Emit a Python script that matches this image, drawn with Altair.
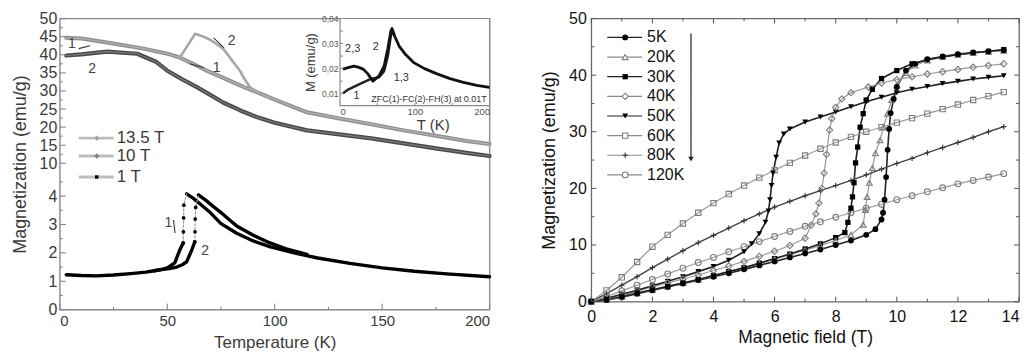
import altair as alt
import pandas as pd

FONT = "Liberation Sans"

# ===================== LEFT PANEL : M(T) =====================
# 13.5 T curve (upper band) and its branch "2" bump
T_135 = [3, 10, 22, 39, 50, 56, 62, 68, 75, 81, 86, 92, 100, 115, 130, 145, 160, 175, 190, 200]
M_135 = [44.7, 44.5, 43.4, 41.7, 40.3, 39.2, 37.5, 35.7, 33.9, 32.3, 31.0, 29.6, 27.6, 24.1, 22.4, 20.8, 19.1, 17.6, 16.1, 15.3]
BUMP_T = [55.8, 59.5, 62.9, 67, 70.7, 76, 83.8, 85.5, 88.5, 93]
BUMP_M = [39.2, 42.6, 45.8, 45.0, 43.9, 41.7, 35.6, 33.7, 31.0, 29.4]
# 10 T curve
T_10 = [3, 10, 22, 36, 45, 50, 57, 64, 70, 76, 84, 92, 100, 115, 130, 145, 160, 175, 190, 200]
M_10 = [39.8, 40.1, 40.9, 40.3, 38.0, 35.6, 33.2, 31.0, 28.9, 26.8, 24.6, 22.7, 21.2, 19.1, 18.0, 16.9, 15.5, 14.1, 12.8, 12.0]
# 1 T, branch 1
B1_LOW_T = [3, 10, 17, 25, 33, 40, 44, 48, 50, 53.5, 55.8, 57.4]
B1_LOW_M = [1.23, 1.20, 1.19, 1.22, 1.27, 1.32, 1.37, 1.43, 1.47, 1.65, 2.10, 2.35]
B1_JUMP_T = [57.4, 57.5, 57.6, 57.7, 59.0]
B1_JUMP_M = [2.35, 2.74, 3.23, 3.68, 4.08]
B1_HIGH_T = [59.0, 62, 66, 70, 75, 82.3, 90, 98, 110, 120, 135, 150, 165, 180, 200]
B1_HIGH_M = [4.08, 3.93, 3.68, 3.42, 3.03, 2.69, 2.42, 2.21, 1.98, 1.82, 1.63, 1.47, 1.35, 1.26, 1.16]
# 1 T, branch 2
B2_LOW_T = [44, 48, 51, 54.4, 57, 59, 61.4, 62.8]
B2_LOW_M = [1.37, 1.42, 1.45, 1.50, 1.58, 1.68, 2.10, 2.39]
B2_JUMP_T = [62.8, 62.9, 63.0, 63.2, 64.5]
B2_JUMP_M = [2.39, 2.74, 3.19, 3.60, 4.04]
B2_HIGH_T = [64.5, 68, 71.5, 75, 79, 82.3, 90, 97.8, 105, 115]
B2_HIGH_M = [4.04, 3.85, 3.63, 3.42, 3.16, 2.95, 2.62, 2.35, 2.15, 1.95]

LEFT_LEGEND = ["13.5 T", "10 T", "1 T"]
LEFT_ANN_TEXT = ["1", "2", "2", "1", "1", "2"]
LEFT_ANN_T = [5.6, 15.0, 80.0, 73.0, 50.5, 67.6]
LEFT_ANN_M = [43.0, 36.0, 43.9, 36.4, 3.04, 2.05]
# short arrow strokes next to the branch numbers
ARROW_ID = ["a", "a", "b", "b", "c", "c", "d", "d"]
ARROW_T = [14, 8.8, 71.6, 76.3, 67, 60.5, 52.9, 53.6]
ARROW_M = [42.5, 41.7, 44.7, 42.0, 36.4, 37.5, 3.16, 2.70]

LEFT_X_MAJOR = [0, 50, 100, 150, 200]
LEFT_X_MINOR = [25, 75, 125, 175]
LEFT_Y_LOW = [0, 1, 2, 3, 4]
LEFT_Y_LOW_MINOR = [0.5, 1.5, 2.5, 3.5, 4.5]
LEFT_Y_HIGH = [10, 15, 20, 25, 30, 35, 40, 45, 50]
LEFT_Y_HIGH_MINOR = [12.5, 17.5, 22.5, 27.5, 32.5, 37.5, 42.5, 47.5]

# inset: ZFC / FC / FH at 0.01 T
IN_UP_T = [4, 12, 19, 25, 31, 37, 44, 52, 59, 64, 68, 69.5, 73, 79, 88, 98, 113, 129, 147, 165, 183, 200]
IN_UP_M = [0.0198, 0.0205, 0.0210, 0.0205, 0.0198, 0.0180, 0.0150, 0.0170, 0.0210, 0.0280, 0.0350, 0.0360,
           0.0330, 0.0290, 0.0255, 0.0225, 0.0200, 0.0180, 0.0160, 0.0145, 0.0133, 0.0125]
IN_LOW_T = [4, 10, 17, 24, 31, 42, 52, 59, 64, 68, 70.5, 73]
IN_LOW_M = [0.0102, 0.0115, 0.0125, 0.0135, 0.0145, 0.0160, 0.0165, 0.0190, 0.0250, 0.0330, 0.0350, 0.0330]
IN_ANN_TEXT = ["2,3", "2", "1,3", "1"]
IN_ANN_T = [17, 48, 82, 22]
IN_ANN_M = [0.0277, 0.0285, 0.0163, 0.0090]
IN_NOTE = "ZFC(1)-FC(2)-FH(3) at 0.01T"
IN_NOTE_T = [119]
IN_NOTE_M = [0.0079]
IN_X_MAJOR = [0, 100, 200]
IN_Y_MAJOR = [0.01, 0.02, 0.03, 0.04]

# ===================== RIGHT PANEL : M(H) =====================
H_5K = [0, .5, 1, 1.5, 2, 2.5, 3, 3.5, 4, 4.5, 5, 5.5, 6, 6.5, 7, 7.5, 8, 8.5, 9, 9.3, 9.5, 9.55, 9.6, 9.65,
        9.7, 9.75, 9.8, 9.9, 10.0, 10.3, 10.6, 11, 11.5, 12, 12.5, 13, 13.5]
M_5K = [0, .3, .8, 1.4, 2.0, 2.6, 3.2, 3.8, 4.4, 5.0, 5.7, 6.4, 7.1, 7.8, 8.5, 9.2, 10.0, 10.8, 11.8, 12.8, 14.5,
        15.7, 18.0, 22.0, 26.8, 30.5, 33.3, 35.8, 37.9, 40.8, 42.0, 42.8, 43.3, 43.7, 44.0, 44.2, 44.4]
H_20K = [0, .5, 1, 1.5, 2, 2.5, 3, 3.5, 4, 4.5, 5, 5.5, 6, 6.5, 7, 7.5, 8, 8.5, 8.9, 8.97, 9.03, 9.1, 9.2, 9.3,
         9.45, 9.56, 9.7, 9.83, 10.0, 10.3, 10.6, 11, 11.5, 12, 12.5, 13, 13.5]
M_20K = [0, .35, .9, 1.5, 2.1, 2.7, 3.3, 3.9, 4.6, 5.3, 6.0, 6.7, 7.5, 8.3, 9.1, 9.9, 10.8, 11.8, 13.6, 16.2,
         18.5, 21.0, 23.6, 26.2, 28.5, 30.8, 33.2, 35.6, 38.2, 40.4, 41.7, 42.6, 43.2, 43.6, 43.9, 44.1, 44.3]
H_30K = [0, .5, 1, 1.5, 2, 2.5, 3, 3.5, 4, 4.5, 5, 5.5, 6, 6.5, 7, 7.5, 8, 8.3, 8.4, 8.5, 8.55, 8.6, 8.65, 8.72,
         8.8, 8.9, 9.0, 9.2, 9.5, 10, 10.5, 11, 11.5, 12, 12.5, 13, 13.5]
M_30K = [0, .4, .9, 1.5, 2.1, 2.7, 3.3, 3.9, 4.6, 5.3, 6.0, 6.8, 7.6, 8.4, 9.3, 10.2, 11.3, 12.2, 14.0, 16.5,
         18.5, 21.0, 24.5, 27.3, 30.8, 33.2, 35.6, 37.5, 39.4, 40.8, 42.0, 42.7, 43.2, 43.6, 43.9, 44.2, 44.5]
H_40K = [0, .5, 1, 1.5, 2, 2.5, 3, 3.5, 4, 4.5, 5, 5.5, 6, 6.5, 7, 7.2, 7.35, 7.45, 7.55, 7.62, 7.7, 7.8, 7.87,
         8.0, 8.2, 8.5, 9.07, 9.5, 10, 10.5, 11, 11.5, 12, 12.5, 13, 13.5]
M_40K = [0, .5, 1.2, 1.9, 2.6, 3.3, 4.0, 4.7, 5.5, 6.3, 7.1, 8.0, 8.9, 9.9, 11.2, 13.5, 15.5, 17.4, 20.0, 22.7,
         26.0, 30.3, 32.3, 34.3, 35.8, 36.9, 37.9, 38.6, 39.2, 39.7, 40.2, 40.6, 41.0, 41.4, 41.7, 42.0]
H_50K = [0, .5, 1, 1.5, 2, 2.5, 3, 3.5, 4, 4.5, 5, 5.25, 5.5, 5.7, 5.8, 5.85, 5.9, 5.95, 6.05, 6.15, 6.3, 6.5,
         7, 7.5, 8, 8.5, 9, 9.5, 10, 10.5, 11, 11.5, 12, 12.5, 13, 13.5]
M_50K = [0, .6, 1.3, 2.0, 2.8, 3.6, 4.4, 5.3, 6.2, 7.3, 8.8, 10.2, 12.0, 14.0, 16.0, 18.0, 20.5, 22.7, 25.5, 28.0,
         29.6, 30.5, 31.7, 32.6, 33.5, 34.4, 35.3, 36.1, 36.9, 37.5, 38.0, 38.5, 38.9, 39.3, 39.6, 39.9]
H_GRID = [0, .5, 1, 1.5, 2, 2.5, 3, 3.5, 4, 4.5, 5, 5.5, 6, 6.5, 7, 7.5, 8, 8.5, 9, 9.5, 10, 10.5, 11, 11.5,
          12, 12.5, 13, 13.5]
M_60K = [0, 2.0, 4.3, 7.0, 9.7, 11.8, 13.8, 15.7, 17.4, 19.0, 20.5, 21.9, 23.2, 24.5, 25.8, 27.0, 28.1, 29.1,
         30.0, 30.8, 31.6, 32.4, 33.2, 34.0, 34.8, 35.6, 36.3, 37.0]
M_80K = [0, 1.4, 2.9, 4.4, 6.0, 7.5, 9.0, 10.4, 11.7, 13.0, 14.3, 15.5, 16.7, 17.7, 18.7, 19.6, 20.5, 21.4,
         22.4, 23.4, 24.4, 25.3, 26.3, 27.2, 28.1, 29.0, 30.0, 30.9]
M_120K = [0, .9, 1.9, 2.9, 3.9, 4.9, 5.9, 6.9, 7.8, 8.8, 9.7, 10.6, 11.5, 12.4, 13.3, 14.1, 14.9, 15.7, 16.5,
          17.2, 18.0, 18.7, 19.4, 20.1, 20.8, 21.4, 22.0, 22.6]

RIGHT_SERIES = ["5K", "20K", "30K", "40K", "50K", "60K", "80K", "120K"]
RIGHT_H = [H_5K, H_20K, H_30K, H_40K, H_50K, H_GRID, H_GRID, H_GRID]
RIGHT_M = [M_5K, M_20K, M_30K, M_40K, M_50K, M_60K, M_80K, M_120K]
RIGHT_X_MAJOR = [0, 2, 4, 6, 8, 10, 12, 14]
RIGHT_X_MINOR = [1, 3, 5, 7, 9, 11, 13]
RIGHT_Y_MAJOR = [0, 10, 20, 30, 40, 50]
RIGHT_Y_MINOR = [5, 15, 25, 35, 45]

# ---------------- styles ----------------
PLUS = "M-1,0H1M0,-1V1"
RSTYLE = {
    "5K":   dict(shape="circle", filled=True, color="#000000", line="#222222", lw=1.6, size=34),
    "20K":  dict(shape="triangle-up", filled=False, color="#7d7d7d", line="#9a9a9a", lw=1.2, size=34),
    "30K":  dict(shape="square", filled=True, color="#000000", line="#222222", lw=1.6, size=28),
    "40K":  dict(shape="diamond", filled=False, color="#7d7d7d", line="#9a9a9a", lw=1.2, size=40),
    "50K":  dict(shape="triangle-down", filled=True, color="#000000", line="#222222", lw=1.6, size=34),
    "60K":  dict(shape="square", filled=False, color="#7d7d7d", line="#9a9a9a", lw=1.2, size=28),
    "80K":  dict(shape=PLUS, filled=False, color="#333333", line="#444444", lw=1.4, size=30),
    "120K": dict(shape="circle", filled=False, color="#7d7d7d", line="#9a9a9a", lw=1.2, size=34),
}

LTXT = "#3a3a3a"
RTXT = "#111111"
one = pd.DataFrame({"k": [0]})

# ---------------- left main panel ----------------
LW, LH = 431, 292
B = 5.158   # display position of 10 emu/g on the broken axis
K = 0.1274  # display units per emu/g above the break
BREAK_EXPR = f"datum.M >= 8 ? {B} + (datum.M - 10) * {K} : datum.M"
Y_DISPLAY = LEFT_Y_LOW + [B + (m - 10) * K for m in LEFT_Y_HIGH]

lx = alt.X("T:Q", scale=alt.Scale(domain=[0, 200], nice=False),
           axis=alt.Axis(values=LEFT_X_MAJOR, ticks=False, domain=False, grid=False, labelFont=FONT,
                         labelFontSize=15, labelColor=LTXT, labelPadding=4, title="Temperature (K)",
                         titleFont=FONT, titleFontSize=17, titleFontWeight="normal", titleColor=LTXT,
                         titlePadding=6, labelOverlap=False))
ly = alt.Y("Y:Q", scale=alt.Scale(domain=[0, 10.26], nice=False),
           axis=alt.Axis(values=Y_DISPLAY, ticks=False, domain=False, grid=False, labelFont=FONT,
                         labelFontSize=16, labelColor=LTXT, labelPadding=3, labelOverlap=False,
                         labelExpr=f"datum.value < 5 ? format(datum.value, 'd') : format((datum.value - {B}) / {K} + 10, '.0f')",
                         title="Magnetization (emu/g)", titleFont=FONT, titleFontSize=18,
                         titleFontWeight="normal", titleColor=LTXT, titlePadding=10))


def tdf(t, m):
    return pd.DataFrame({"T": t, "M": m, "i": list(range(len(t)))})


def lcurve(t, m, color, width, dash=None):
    kw = dict(color=color, strokeWidth=width, strokeCap="round", strokeJoin="round")
    if dash:
        kw["strokeDash"] = dash
    return (alt.Chart(tdf(t, m)).transform_calculate(Y=BREAK_EXPR)
            .mark_line(**kw).encode(x=lx, y=ly, order=alt.Order("i:Q")))


def lpoints(t, m, color, size, shape="circle"):
    return (alt.Chart(tdf(t, m)).transform_calculate(Y=BREAK_EXPR)
            .mark_point(shape=shape, filled=True, color=color, size=size, opacity=1)
            .encode(x=lx, y=ly))


left_layers = [
    lcurve(T_135, M_135, "#8f8f8f", 4.0),
    lcurve(T_135, M_135, "#b4b4b4", 1.2),
    lcurve(BUMP_T, BUMP_M, "#a6a6a6", 2.6),
    lcurve(T_10, M_10, "#4a4a4a", 4.2),
    lcurve(T_10, M_10, "#7a7a7a", 1.2),
    lcurve(B1_LOW_T, B1_LOW_M, "#000000", 3.4),
    lcurve(B1_HIGH_T, B1_HIGH_M, "#000000", 3.4),
    lcurve(B2_LOW_T, B2_LOW_M, "#000000", 3.4),
    lcurve(B2_HIGH_T, B2_HIGH_M, "#000000", 3.4),
    lcurve(B1_JUMP_T, B1_JUMP_M, "#9a9a9a", 1.2, dash=[2, 2]),
    lcurve(B2_JUMP_T, B2_JUMP_M, "#9a9a9a", 1.2, dash=[2, 2]),
    lpoints(B1_JUMP_T[:-1], B1_JUMP_M[:-1], "#000000", 14),
    lpoints(B2_JUMP_T[:-1], B2_JUMP_M[:-1], "#000000", 14),
]

arr = pd.DataFrame({"T": ARROW_T, "M": ARROW_M, "g": ARROW_ID, "i": list(range(len(ARROW_T)))})
left_layers.append(alt.Chart(arr).transform_calculate(Y=BREAK_EXPR)
                   .mark_line(color="#333333", strokeWidth=1.1)
                   .encode(x=lx, y=ly, detail="g:N", order=alt.Order("i:Q")))
ann = pd.DataFrame({"T": LEFT_ANN_T, "M": LEFT_ANN_M, "txt": LEFT_ANN_TEXT})
left_layers.append(alt.Chart(ann).transform_calculate(Y=BREAK_EXPR)
                   .mark_text(font=FONT, fontSize=14, color="#444444")
                   .encode(x=lx, y=ly, text="txt:N"))


def ltick_x(vals, length):
    d = pd.DataFrame({"T": vals})
    return alt.Chart(d).mark_rule(color="#808080", strokeWidth=1).encode(
        x=lx, y=alt.value(LH), y2=alt.value(LH - length))


def ltick_y(vals, length):
    d = pd.DataFrame({"M": vals})
    return alt.Chart(d).transform_calculate(Y=BREAK_EXPR).mark_rule(color="#808080", strokeWidth=1).encode(
        y=ly, x=alt.value(0), x2=alt.value(length))


left_layers += [ltick_x(LEFT_X_MAJOR, 6), ltick_x(LEFT_X_MINOR, 3),
                ltick_y(LEFT_Y_LOW + LEFT_Y_HIGH, 6), ltick_y(LEFT_Y_LOW_MINOR + LEFT_Y_HIGH_MINOR, 3)]

LEG_ROWS_L = [120, 138, 159]
LEG_MARK_L = [dict(shape="cross", color="#a0a0a0", size=22), dict(shape="cross", color="#808080", size=22),
              dict(shape="square", color="#000000", size=12)]
for lab, yr, mk in zip(LEFT_LEGEND, LEG_ROWS_L, LEG_MARK_L):
    left_layers.append(alt.Chart(one).mark_rule(color="#bdbdbd", strokeWidth=3).encode(
        x=alt.value(19), x2=alt.value(54), y=alt.value(yr)))
    left_layers.append(alt.Chart(one).mark_point(shape=mk["shape"], filled=True, color=mk["color"],
                                                 size=mk["size"], opacity=1).encode(
        x=alt.value(37), y=alt.value(yr)))
    left_layers.append(alt.Chart(one).mark_text(text=lab, align="left", baseline="middle", font=FONT,
                                                fontSize=17, color=LTXT).encode(
        x=alt.value(57), y=alt.value(yr)))

# ---------------- inset (own scales, drawn in the top-right corner) ----------------
IX0, IX1, IH = 281, LW, 87.5
ix = alt.X("T:Q", scale=alt.Scale(domain=[0, 200], nice=False, range=[IX0, IX1]),
           axis=alt.Axis(orient="bottom", offset=-(LH - IH), values=IN_X_MAJOR, ticks=False, domain=False,
                         grid=False, labelFont=FONT, labelFontSize=9.5, labelColor="#555555", labelPadding=1,
                         title="T (K)", titleFont=FONT, titleFontSize=15, titleFontWeight="normal",
                         titleColor=LTXT, titlePadding=1, titleX=374, labelOverlap=False))
iy = alt.Y("M:Q", scale=alt.Scale(domain=[0.0052, 0.04], nice=False, range=[IH, 0]),
           axis=alt.Axis(orient="left", offset=-IX0, values=IN_Y_MAJOR, ticks=False, domain=False, grid=False,
                         labelFont=FONT, labelFontSize=8.5, labelColor="#555555", labelPadding=2,
                         labelExpr="replace(format(datum.value, '.2f'), '.', ',')", labelOverlap=False,
                         title="M (emu/g)", titleFont=FONT, titleFontSize=13, titleFontWeight="normal",
                         titleColor=LTXT, titlePadding=4))

inset_box = pd.DataFrame({"T": [0], "T2": [200], "M": [0.0052], "M2": [0.04]})
inset_layers = [
    alt.Chart(inset_box).mark_rect(fill="white", stroke="#8a8a8a", strokeWidth=1.2).encode(
        x=ix, x2="T2:Q", y=iy, y2="M2:Q"),
    alt.Chart(tdf(IN_LOW_T, IN_LOW_M)).mark_line(color="#222222", strokeWidth=2.4, strokeJoin="round")
    .encode(x=ix, y=iy, order=alt.Order("i:Q")),
    alt.Chart(tdf(IN_UP_T, IN_UP_M)).mark_line(color="#111111", strokeWidth=2.8, strokeJoin="round")
    .encode(x=ix, y=iy, order=alt.Order("i:Q")),
    alt.Chart(pd.DataFrame({"T": IN_ANN_T, "M": IN_ANN_M, "txt": IN_ANN_TEXT}))
    .mark_text(font=FONT, fontSize=11, color="#333333").encode(x=ix, y=iy, text="txt:N"),
    alt.Chart(pd.DataFrame({"T": IN_NOTE_T, "M": IN_NOTE_M}))
    .mark_text(text=IN_NOTE, font=FONT, fontSize=9, color="#333333").encode(x=ix, y=iy),
    alt.Chart(pd.DataFrame({"T": [50, 100, 150]})).mark_rule(color="#888888").encode(
        x=ix, y=alt.value(IH), y2=alt.value(IH - 3)),
    alt.Chart(pd.DataFrame({"M": [0.01, 0.015, 0.02, 0.025, 0.03, 0.035]})).mark_rule(color="#888888").encode(
        y=iy, x=alt.value(IX0), x2=alt.value(IX0 + 3)),
]

left_panel = (alt.layer(alt.layer(*left_layers), alt.layer(*inset_layers))
              .resolve_scale(x="independent", y="independent")
              .properties(width=LW, height=LH, view=alt.ViewBackground(stroke="#8a8a8a", strokeWidth=1.4)))

# ---------------- right panel ----------------
RW, RH = 429, 284
rx = alt.X("H:Q", scale=alt.Scale(domain=[0, 14], nice=False),
           axis=alt.Axis(values=RIGHT_X_MAJOR, ticks=False, domain=False, grid=False, labelFont=FONT,
                         labelFontSize=16, labelColor=RTXT, labelPadding=7,
                         labelAlign={"condition": {"test": "datum.value == 14", "value": "right"}, "value": "center"},
                         title="Magnetic field (T)", titleFont=FONT, titleFontSize=17.5,
                         titleFontWeight="normal", titleColor=RTXT, titlePadding=4, labelOverlap=False))
ry = alt.Y("M:Q", scale=alt.Scale(domain=[0, 50], nice=False),
           axis=alt.Axis(values=RIGHT_Y_MAJOR, ticks=False, domain=False, grid=False, labelFont=FONT,
                         labelFontSize=16, labelColor=RTXT, labelPadding=5, title="Magnetization (emu/g)",
                         titleFont=FONT, titleFontSize=18, titleFontWeight="normal", titleColor=RTXT,
                         titlePadding=10, labelOverlap=False))

right_layers = []
for name, hs, ms in zip(RIGHT_SERIES, RIGHT_H, RIGHT_M):
    st = RSTYLE[name]
    d = pd.DataFrame({"H": hs, "M": ms, "i": list(range(len(hs)))})
    right_layers.append(alt.Chart(d).mark_line(color=st["line"], strokeWidth=st["lw"])
                        .encode(x=rx, y=ry, order=alt.Order("i:Q")))
for name, hs, ms in zip(RIGHT_SERIES[::-1], RIGHT_H[::-1], RIGHT_M[::-1]):
    st = RSTYLE[name]
    d = pd.DataFrame({"H": hs, "M": ms})
    right_layers.append(alt.Chart(d).mark_point(shape=st["shape"], filled=st["filled"], color=st["color"],
                                                size=st["size"], opacity=1, strokeWidth=1.1)
                        .encode(x=rx, y=ry))


def rtick_x(vals, length, top):
    d = pd.DataFrame({"H": vals})
    y0, y1 = (0, length) if top else (RH, RH - length)
    return alt.Chart(d).mark_rule(color="#555555").encode(x=rx, y=alt.value(y0), y2=alt.value(y1))


def rtick_y(vals, length, right_side):
    d = pd.DataFrame({"M": vals})
    x0, x1 = (RW, RW - length) if right_side else (0, length)
    return alt.Chart(d).mark_rule(color="#555555").encode(y=ry, x=alt.value(x0), x2=alt.value(x1))


for side in (False, True):
    right_layers += [rtick_x(RIGHT_X_MAJOR, 5, side), rtick_x(RIGHT_X_MINOR, 3, side),
                     rtick_y(RIGHT_Y_MAJOR, 5, side), rtick_y(RIGHT_Y_MINOR, 3, side)]

for k, name in enumerate(RIGHT_SERIES):
    st = RSTYLE[name]
    yr = 19 + k * 19.7
    right_layers.append(alt.Chart(one).mark_rule(color=st["line"] if st["filled"] else "#8a8a8a",
                                                 strokeWidth=1.2).encode(
        x=alt.value(16), x2=alt.value(51), y=alt.value(yr)))
    right_layers.append(alt.Chart(one).mark_point(shape=st["shape"], filled=st["filled"], color=st["color"],
                                                  size=st["size"], opacity=1, strokeWidth=1.1,
                                                  fill="white" if not st["filled"] else st["color"]).encode(
        x=alt.value(34), y=alt.value(yr)))
    right_layers.append(alt.Chart(one).mark_text(text=name, align="left", baseline="middle", font=FONT,
                                                 fontSize=16, color=RTXT).encode(
        x=alt.value(56), y=alt.value(yr)))
right_layers.append(alt.Chart(one).mark_rule(color="#222222", strokeWidth=1.2).encode(
    x=alt.value(100), y=alt.value(15), y2=alt.value(140)))
right_layers.append(alt.Chart(one).mark_point(shape="triangle-down", filled=True, color="#222222",
                                              size=30, opacity=1).encode(
    x=alt.value(100), y=alt.value(141)))

right = alt.layer(*right_layers).properties(
    width=RW, height=RH, view=alt.ViewBackground(stroke="#6a6a6a", strokeWidth=1.3))

chart = (alt.hconcat(left_panel, right, spacing=47)
         .properties(padding={"left": 2, "top": 1, "right": 0, "bottom": 0})
         .configure(background="white"))

chart.save("out.html", embed_options={"renderer": "svg", "actions": False})
